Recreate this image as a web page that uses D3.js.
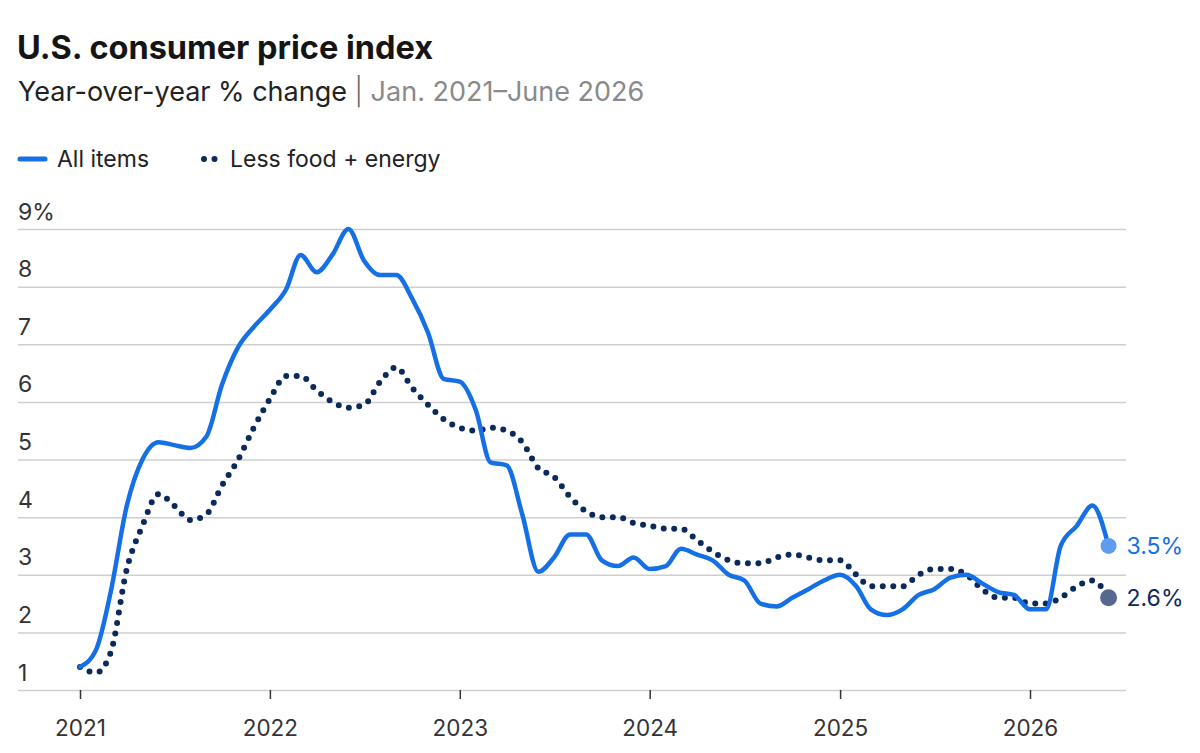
<!DOCTYPE html>
<html>
<head>
<meta charset="utf-8">
<script src="https://cdn.jsdelivr.net/npm/d3@7"></script>
<style>
  body { margin: 0; background: #fff; }
  svg { display: block; font-family: Inter, Lato, sans-serif; }
</style>
</head>
<body>
<div class="chart"></div>
<script>
// monthly values, Jan 2021 .. June 2026
var allItems = [
  1.4, 1.7, 2.7, 4.2, 5.0, 5.3, 5.25, 5.2, 5.4, 6.3, 6.95, 7.3,
  7.6, 7.95, 8.55, 8.25, 8.55, 9.0, 8.45, 8.2, 8.2, 7.8, 7.2, 6.4,
  6.35, 5.85, 4.95, 4.9, 4.05, 3.05, 3.3, 3.7, 3.7, 3.25, 3.15, 3.3,
  3.1, 3.15, 3.45, 3.35, 3.25, 3.0, 2.9, 2.5, 2.45, 2.6, 2.75, 2.9,
  3.0, 2.8, 2.4, 2.3, 2.4, 2.65, 2.75, 2.95, 3.0, 2.85, 2.7, 2.65,
  2.4, 2.4, 3.5, 3.85, 4.2, 3.5
];
var core = [
  1.4, 1.3, 1.65, 3.1, 3.85, 4.4, 4.2, 3.95, 4.05, 4.55, 5.0, 5.55,
  6.05, 6.45, 6.45, 6.2, 6.0, 5.9, 5.95, 6.35, 6.6, 6.25, 5.95, 5.7,
  5.55, 5.5, 5.55, 5.5, 5.3, 4.85, 4.7, 4.35, 4.1, 4.0, 4.0, 3.9,
  3.85, 3.8, 3.8, 3.6, 3.4, 3.25, 3.2, 3.2, 3.3, 3.35, 3.3, 3.25,
  3.25, 3.0, 2.8, 2.8, 2.8, 3.0, 3.1, 3.1, 3.0, 2.75, 2.6, 2.6,
  2.5, 2.5, 2.6, 2.8, 2.9, 2.6
];
var months = d3.timeMonth.range(new Date(2021, 0, 1), new Date(2026, 6, 1));
var yTicks = [1, 2, 3, 4, 5, 6, 7, 8, 9];
var endLabels = ["3.5%", "2.6%"];

var blue = "#1570e6", navy = "#0b2a5c";

var svg = d3.select(".chart").append("svg")
    .attr("width", 1200)
    .attr("height", 753);

// title block
svg.append("text")
    .attr("x", 17).attr("y", 59)
    .attr("font-size", 32.5).attr("font-weight", 700)
    .attr("fill", "#151515")
    .text("U.S. consumer price index");

var sub = svg.append("text")
    .attr("x", 18).attr("y", 101)
    .attr("font-size", 27).attr("fill", "#222");
sub.append("tspan").text("Year-over-year % change ");
sub.append("tspan").attr("fill", "#666").attr("font-weight", 300).text("| ");
sub.append("tspan").attr("fill", "#8a8a8a").text("Jan. 2021\u2013June 2026");

// legend
var leg = svg.append("g");
leg.append("line")
    .attr("x1", 20).attr("x2", 45).attr("y1", 159).attr("y2", 159)
    .attr("stroke", blue).attr("stroke-width", 5).attr("stroke-linecap", "round");
leg.append("text").attr("x", 57).attr("y", 167)
    .attr("font-size", 23).attr("fill", "#222").text("All items");
leg.append("line")
    .attr("x1", 204).attr("x2", 220).attr("y1", 159).attr("y2", 159)
    .attr("stroke", navy).attr("stroke-width", 6)
    .attr("stroke-linecap", "round").attr("stroke-dasharray", "0,10.5");
leg.append("text").attr("x", 230).attr("y", 167)
    .attr("font-size", 23).attr("fill", "#222").text("Less food + energy");

// scales
var x = d3.scaleTime()
    .domain([new Date(2021, 0, 1), new Date(2026, 0, 1)])
    .range([80, 1030]);
var y = d3.scaleLinear().domain([1, 9]).range([690, 229]);

// y grid + labels
var yAxis = svg.append("g")
    .attr("transform", "translate(18,0)")
    .call(d3.axisRight(y).tickValues(yTicks).tickSize(1108)
        .tickFormat(function(d) { return d == 9 ? "9%" : d; }));
yAxis.select(".domain").remove();
yAxis.selectAll(".tick line").attr("stroke", "#cfcfcf").attr("stroke-width", 1.5);
yAxis.selectAll(".tick text")
    .attr("x", 0).attr("dy", -10)
    .attr("text-anchor", "start")
    .attr("font-size", 23).attr("font-family", "Inter, sans-serif")
    .attr("fill", "#333");

// x axis
var xAxis = svg.append("g")
    .attr("transform", "translate(0,690)")
    .call(d3.axisBottom(x).ticks(d3.timeYear.every(1)).tickSize(9)
        .tickFormat(d3.timeFormat("%Y")));
xAxis.select(".domain").remove();
xAxis.selectAll(".tick line").attr("stroke", "#333").attr("stroke-width", 1.5);
xAxis.selectAll(".tick text")
    .attr("y", 46).attr("dy", 0)
    .attr("font-size", 22.5).attr("font-family", "Inter, sans-serif")
    .attr("fill", "#333");

var line = d3.line()
    .x(function(d, i) { return x(months[i]); })
    .y(function(d) { return y(d); })
    .curve(d3.curveMonotoneX);

svg.append("path")
    .datum(core)
    .attr("d", line)
    .attr("fill", "none")
    .attr("stroke", navy)
    .attr("stroke-width", 6)
    .attr("stroke-linecap", "round")
    .attr("stroke-dasharray", "0,10.5");

svg.append("path")
    .datum(allItems)
    .attr("d", line)
    .attr("fill", "none")
    .attr("stroke", blue)
    .attr("stroke-width", 4.5)
    .attr("stroke-linejoin", "round")
    .attr("stroke-linecap", "round");

// end markers + labels
var last = months.length - 1;
var ends = [
  { v: allItems[last], dot: "#5f9bef", col: blue, r: 8 },
  { v: core[last], dot: "#56688f", col: navy, r: 8.5 }
];
svg.selectAll(".endDot")
    .data(ends)
    .enter().append("circle")
    .attr("class", "endDot")
    .attr("cx", x(months[last]))
    .attr("cy", function(d) { return y(d.v); })
    .attr("r", function(d) { return d.r; })
    .attr("fill", function(d) { return d.dot; });
svg.selectAll(".endLabel")
    .data(ends)
    .enter().append("text")
    .attr("class", "endLabel")
    .attr("x", x(months[last]) + 18)
    .attr("y", function(d) { return y(d.v) + 8; })
    .attr("font-size", 23)
    .attr("fill", function(d) { return d.col; })
    .text(function(d, i) { return endLabels[i]; });
</script>
</body>
</html>
